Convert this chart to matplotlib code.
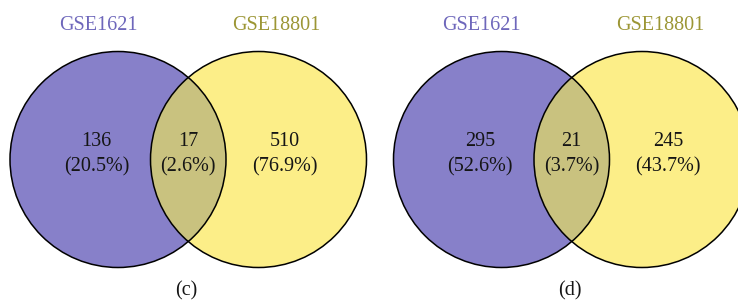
import matplotlib
matplotlib.use("Agg")
import matplotlib.pyplot as plt
from matplotlib.patches import Circle

set_names = ["GSE1621", "GSE18801"]
panel_labels = ["(c)", "(d)"]
only_a = [136, 295]
both = [17, 21]
only_b = [510, 245]

purple = "#8780c9"
yellow = "#fcee88"
mix = "#c9c27f"
purple_txt = "#6e67bb"
olive_txt = "#9c9635"

plt.rcParams['font.family'] = ['Liberation Serif', 'DejaVu Serif']

fig = plt.figure(figsize=(7.38, 3.02), dpi=100)
ax = fig.add_axes([0, 0, 1, 1])
ax.set_xlim(0, 738)
ax.set_ylim(302, 0)
ax.set_aspect('equal')
ax.axis('off')

# layout (pixels)
left_cx = [118, 501.5]
dist = 140.5
r = 108
cy = 159.5
fs = 14.5

for i in range(2):
    cxa = left_cx[i]
    cxb = cxa + dist
    ca = Circle((cxa, cy), r, facecolor=purple, edgecolor='none', zorder=1)
    cb = Circle((cxb, cy), r, facecolor=yellow, edgecolor='none', zorder=1)
    ax.add_patch(ca)
    ax.add_patch(cb)
    clipc = Circle((cxb, cy), r, transform=ax.transData, facecolor='none', edgecolor='none')
    ax.add_patch(clipc)
    inter = Circle((cxa, cy), r, facecolor=mix, edgecolor='none', zorder=2)
    ax.add_patch(inter)
    inter.set_clip_path(clipc)
    for cx in (cxa, cxb):
        ax.add_patch(Circle((cx, cy), r, facecolor='none', edgecolor='black', lw=1.1, zorder=3))

    total = only_a[i] + both[i] + only_b[i]
    xs = [cxa - 21.5, (cxa + cxb) / 2, cxb + 26]
    vals = [only_a[i], both[i], only_b[i]]
    for x, v in zip(xs, vals):
        ax.text(x, 141, f"{v}", ha='center', va='center', fontsize=fs, zorder=4, color='#151515')
        ax.text(x, 167, f"({v / total * 100:.1f}%)", ha='center', va='center',
                fontsize=fs, zorder=4, color='#151515')

    ax.text(cxa - 20, 25, set_names[0], ha='center', va='center',
            fontsize=fs, color=purple_txt)
    ax.text(cxb + 18, 25, set_names[1], ha='center', va='center',
            fontsize=fs, color=olive_txt)
    ax.text((cxa + cxb) / 2 - 2, 291, panel_labels[i],
            ha='center', va='center', fontsize=fs, color='#151515')

fig.savefig("out.png", dpi=100)
